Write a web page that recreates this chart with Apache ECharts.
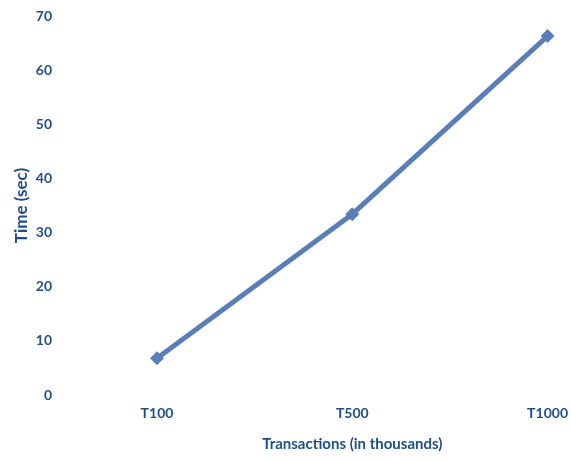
<!DOCTYPE html>
<html>
<head>
<meta charset="utf-8">
<script src="https://cdn.jsdelivr.net/npm/echarts@6/dist/echarts.min.js"></script>
<style>
  html, body { margin: 0; padding: 0; background: #fff; }
  #chart { width: 571px; height: 460px; }
</style>
</head>
<body>
<div id="chart"></div>
<script>
// Run time per transaction set
const categories = ['T100', 'T500', 'T1000'];
const timeSec = [6.8, 33.4, 66.3];
const yTicks = { min: 0, max: 70, interval: 10 };

const textColor = '#1f4e8c';
const fontFamily = 'Lato, "Open Sans", sans-serif';

const chart = echarts.init(document.getElementById('chart'));
chart.setOption({
  animation: false,
  grid: { left: 157, right: 23, top: 16, bottom: 65 },
  xAxis: {
    type: 'category',
    data: categories,
    boundaryGap: false,
    axisLine: { show: false },
    axisTick: { show: false },
    axisLabel: { margin: 11, color: textColor, fontFamily, fontWeight: 'bold', fontSize: 14 },
    name: 'Transactions (in thousands)',
    nameLocation: 'middle',
    nameGap: 42,
    nameTextStyle: { color: textColor, fontFamily, fontWeight: 'bold', fontSize: 15 }
  },
  yAxis: {
    type: 'value',
    min: yTicks.min,
    max: yTicks.max,
    interval: yTicks.interval,
    offset: 97,
    axisLine: { show: false },
    axisTick: { show: false },
    splitLine: { show: false },
    axisLabel: { margin: 8, color: textColor, fontFamily, fontWeight: 'bold', fontSize: 14 },
    name: 'Time (sec)',
    nameLocation: 'middle',
    nameGap: 30,
    nameMoveOverlap: false,
    nameTextStyle: { color: textColor, fontFamily, fontWeight: 'bold', fontSize: 17 }
  },
  series: [{
    type: 'line',
    data: timeSec,
    symbol: 'diamond',
    symbolSize: 14,
    lineStyle: { color: '#5a7fb8', width: 5 },
    itemStyle: { color: '#5a7fb8' }
  }]
});
</script>
</body>
</html>
